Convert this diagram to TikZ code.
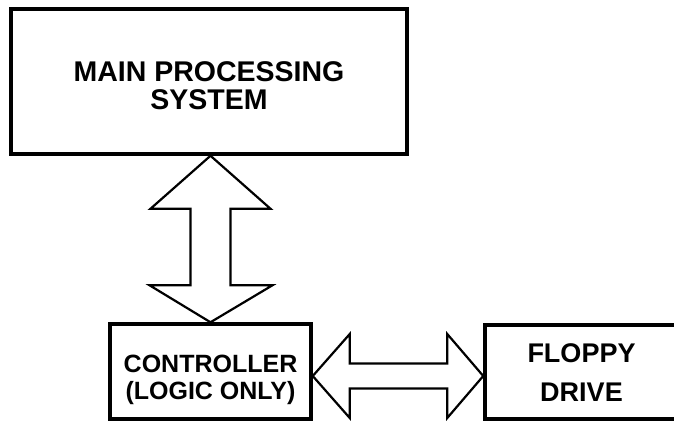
\documentclass[tikz,border=0pt]{standalone}
\usepackage{fontspec}
\setmainfont{Liberation Sans}
\usetikzlibrary{calc}

\begin{document}
\begin{tikzpicture}[x=1pt,y=-1pt]
  \tikzstyle{unit box}=[rectangle,draw,line width=3.5pt,inner sep=0]
  \tikzstyle{unit text}=[align=center,inner sep=0]
  \tikzstyle{bus}=[draw,line width=2.2pt,line join=miter,fill=white]
  \useasboundingbox (0,0) rectangle (674,421);
  % boxes
  \node(main)[unit box,minimum width=396pt,minimum height=145pt] at (209,81.5) {};
  \node(ctrl)[unit box,minimum width=201pt,minimum height=95pt] at (210.5,371.5) {};
  \node(floppy)[unit box,minimum width=193pt,minimum height=94pt] at (581.5,372) {};
  \node(main text)[unit text,font=\fontsize{28.5}{28.5}\selectfont\bfseries]
    at ([yshift=-4pt]main.center) {MAIN PROCESSING\\SYSTEM};
  \node(ctrl text)[unit text,font=\fontsize{25}{27}\selectfont\bfseries]
    at ([yshift=-8pt]ctrl.center) {CONTROLLER\\(LOGIC ONLY)};
  \node(floppy text)[unit text,font=\fontsize{27}{39}\selectfont\bfseries]
    at ([yshift=-1pt]floppy.center) {FLOPPY\\DRIVE};
  % vertical bus
  \coordinate (vtop) at (ctrl.north |- main.south);
  \coordinate (vbot) at (ctrl.north);
  \path[bus] (vtop) -- ($(vtop)+(60,53)$) -- ($(vtop)+(20,53)$)
    -- ($(vbot)+(20,-37)$) -- ($(vbot)+(62,-37)$) -- (vbot)
    -- ($(vbot)+(-61,-37)$) -- ($(vbot)+(-20,-37)$)
    -- ($(vtop)+(-20,53)$) -- ($(vtop)+(-60,53)$) -- cycle;
  % horizontal bus
  \coordinate (hl) at ($(ctrl.east)+(0,4.5)$);
  \coordinate (hr) at (floppy.west |- hl);
  \path[bus] (hl) -- ($(hl)+(37,-42)$) -- ($(hl)+(37,-12.5)$)
    -- ($(hr)+(-36,-12.5)$) -- ($(hr)+(-36,-42)$) -- (hr)
    -- ($(hr)+(-36,42)$) -- ($(hr)+(-36,12.5)$)
    -- ($(hl)+(37,12.5)$) -- ($(hl)+(37,42)$) -- cycle;
\end{tikzpicture}
\end{document}
